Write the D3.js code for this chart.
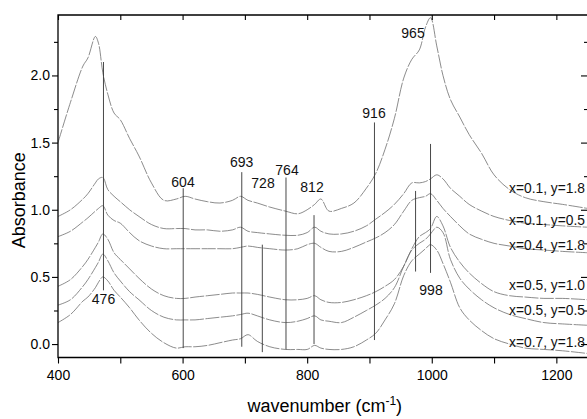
<!DOCTYPE html>
<html><head><meta charset="utf-8">
<script src="https://cdn.jsdelivr.net/npm/d3@7"></script>
<style>body{margin:0;background:#fff}svg{display:block}text{font-family:"Liberation Sans",Arial,sans-serif}</style>
</head><body>
<svg id="c" width="587" height="419"></svg>
<script>
// ---------- data ----------
const wavenumbers = [400,420,440,448,460,465,472,480,490,500,515,530,550,570,590,604,620,640,660,680,693,705,720,740,765,785,800,812,822,835,855,875,895,910,925,940,955,968,980,990,998,1008,1018,1030,1045,1060,1080,1100,1125,1150,1180,1210,1250];
const seriesNames = ["x=0.1, y=1.8","x=0.1, y=0.5","x=0.4, y=1.8","x=0.5, y=1.0","x=0.5, y=0.5","x=0.7, y=1.8"];
const absX01Y18 = [1.50,1.80,2.07,2.13,2.29,2.24,2.02,1.86,1.72,1.67,1.53,1.40,1.20,1.07,1.08,1.10,1.08,1.06,1.05,1.07,1.10,1.07,1.05,1.02,0.99,0.97,1.00,1.04,1.08,0.99,1.01,1.05,1.16,1.27,1.45,1.68,1.98,2.12,2.19,2.36,2.43,2.22,2.00,1.82,1.69,1.56,1.42,1.26,1.15,1.09,1.06,1.04,1.01];
const absX01Y05 = [0.95,1.00,1.08,1.12,1.20,1.23,1.24,1.15,1.10,1.06,1.00,0.95,0.89,0.86,0.86,0.86,0.85,0.85,0.84,0.85,0.87,0.84,0.83,0.82,0.81,0.81,0.83,0.87,0.84,0.82,0.82,0.84,0.88,0.93,0.98,1.04,1.12,1.20,1.20,1.21,1.23,1.26,1.23,1.16,1.10,1.04,0.99,0.95,0.92,0.90,0.89,0.88,0.87];
const absX04Y18 = [0.80,0.84,0.91,0.94,0.99,1.01,1.03,0.96,0.92,0.90,0.83,0.77,0.73,0.71,0.71,0.71,0.71,0.71,0.71,0.71,0.72,0.73,0.72,0.71,0.70,0.71,0.74,0.75,0.72,0.69,0.69,0.72,0.76,0.79,0.83,0.89,0.99,1.07,1.09,1.10,1.12,1.07,1.01,0.95,0.88,0.82,0.78,0.75,0.73,0.71,0.70,0.69,0.68];
const absX05Y10 = [0.43,0.48,0.58,0.63,0.72,0.76,0.82,0.78,0.68,0.63,0.56,0.49,0.41,0.36,0.34,0.34,0.35,0.36,0.37,0.38,0.38,0.38,0.37,0.35,0.33,0.33,0.34,0.36,0.33,0.31,0.31,0.33,0.36,0.39,0.43,0.48,0.58,0.71,0.80,0.83,0.86,0.95,0.88,0.72,0.61,0.53,0.45,0.39,0.36,0.35,0.34,0.34,0.33];
const absX05Y05 = [0.29,0.33,0.43,0.48,0.57,0.61,0.67,0.62,0.53,0.47,0.39,0.33,0.25,0.20,0.18,0.18,0.18,0.19,0.20,0.21,0.22,0.23,0.21,0.18,0.16,0.17,0.19,0.21,0.18,0.17,0.16,0.20,0.25,0.29,0.34,0.42,0.58,0.70,0.75,0.78,0.82,0.87,0.83,0.63,0.49,0.41,0.33,0.27,0.22,0.19,0.16,0.15,0.14];
const absX07Y18 = [0.16,0.22,0.32,0.35,0.42,0.46,0.50,0.47,0.40,0.35,0.27,0.18,0.08,0.01,-0.03,-0.02,-0.02,-0.01,0.01,0.03,0.04,0.07,0.02,-0.02,-0.04,-0.04,-0.04,-0.01,-0.03,-0.04,-0.04,-0.02,0.03,0.08,0.18,0.30,0.51,0.62,0.67,0.71,0.74,0.70,0.60,0.46,0.27,0.18,0.10,0.04,0.00,-0.03,-0.04,-0.05,-0.07];
const seriesValues = [absX01Y18,absX01Y05,absX04Y18,absX05Y10,absX05Y05,absX07Y18];

const markerLabels = ["476","604","693","728","764","812","916","965","998"];
const markerWn     = [473,601,695,728,766,811,908,974,998];
const markerTop    = [2.10,1.16,1.28,0.74,1.24,0.96,1.65,1.14,1.49];
const markerBottom = [0.40,-0.03,-0.02,-0.06,-0.04,0.00,0.03,0.54,0.53];

const xTickValues = [400,600,800,1000,1200];
const xMinorTicks = [500,700,900,1100];
const yTickValues = [0.0,0.5,1.0,1.5,2.0];
const yMinorTicks = [0.25,0.75,1.25,1.75,2.25];

// ---------- layout ----------
const L = 58, R = 587.5, T = 15, B = 357.5;
const x = d3.scaleLinear().domain([400,1250]).range([L,R]);
const y = d3.scaleLinear().domain([-0.1,2.45]).range([B,T]);
const markerLabelPos = [[103.5,304],[183,187],[241.7,167],[263,188],[287,175],[312,192],[374,118],[413,38],[431,295]];
const seriesLabelPos = [[509,193],[509,225],[509,250],[509,290],[509,315],[509,347]];

const svg = d3.select("#c");
svg.append("defs").append("clipPath").attr("id","pa").append("rect")
  .attr("x",L).attr("y",T).attr("width",R-L).attr("height",B-T);

const line = d3.line().x((d,i)=>x(wavenumbers[i])).y(d=>y(d)).curve(d3.curveCatmullRom.alpha(0.5));
const g = svg.append("g").attr("clip-path","url(#pa)");
g.selectAll("path.s").data(seriesValues).join("path").attr("class","s")
  .attr("d",line).attr("fill","none").attr("stroke","#666").attr("stroke-width",0.75)
  .attr("stroke-dasharray","14,1.5");

svg.append("g").selectAll("line").data(markerWn).join("line")
  .attr("x1",d=>x(d)).attr("x2",d=>x(d))
  .attr("y1",(d,i)=>y(markerTop[i])).attr("y2",(d,i)=>y(markerBottom[i]))
  .attr("stroke","#333").attr("stroke-width",0.9);
svg.append("g").selectAll("text").data(markerLabels).join("text")
  .attr("x",(d,i)=>markerLabelPos[i][0]).attr("y",(d,i)=>markerLabelPos[i][1])
  .attr("text-anchor","middle").attr("font-size",14).attr("fill","#111").text(d=>d);

svg.append("g").selectAll("text").data(seriesNames).join("text")
  .attr("x",(d,i)=>seriesLabelPos[i][0]).attr("y",(d,i)=>seriesLabelPos[i][1])
  .attr("font-size",13.8).attr("fill","#111").text(d=>d);

function style(sel){ sel.select(".domain").remove(); sel.selectAll("line").attr("stroke","#000").attr("stroke-width",1.1); sel.selectAll("text").attr("font-size",14).attr("fill","#000").attr("font-family",'"Liberation Sans",Arial,sans-serif'); }
svg.append("g").attr("transform",`translate(${L},0)`).call(d3.axisLeft(y).tickValues(yTickValues).tickSize(6).tickPadding(2).tickFormat(d3.format(".1f"))).call(style);
svg.append("g").attr("transform",`translate(${L},0)`).call(d3.axisLeft(y).tickValues(yMinorTicks).tickSize(4).tickFormat("")).call(style);
svg.append("g").attr("transform",`translate(${R-0.5},0)`).call(d3.axisRight(y).tickValues(yTickValues).tickSize(-6).tickFormat("")).call(style);
svg.append("g").attr("transform",`translate(${R-0.5},0)`).call(d3.axisRight(y).tickValues(yMinorTicks).tickSize(-3).tickFormat("")).call(style);
svg.append("g").attr("transform",`translate(0,${B})`).call(d3.axisBottom(x).tickValues(xTickValues).tickSize(6).tickPadding(7).tickFormat(d3.format("d"))).call(style);
svg.append("g").attr("transform",`translate(0,${B})`).call(d3.axisBottom(x).tickValues(xMinorTicks).tickSize(6).tickFormat("")).call(style);
svg.append("g").attr("transform",`translate(0,${T})`).call(d3.axisTop(x).tickValues(xTickValues.concat(xMinorTicks)).tickSize(-5).tickFormat("")).call(style);

svg.append("path").attr("d",`M${R},${T}H${L}V${B}H${R}`).attr("fill","none").attr("stroke","#000").attr("stroke-width",1.3);

const xt = svg.append("text").attr("x",(L+R)/2+2).attr("y",412).attr("text-anchor","middle").attr("font-size",18).attr("fill","#000");
xt.append("tspan").text("wavenumber (cm");
xt.append("tspan").attr("font-size",12).attr("dy",-7).text("-1");
xt.append("tspan").attr("dy",7).text(")");
svg.append("text").attr("transform",`translate(25,${(T+B)/2+14}) rotate(-90)`).attr("text-anchor","middle").attr("font-size",18).attr("fill","#000").text("Absorbance");
</script>
</body></html>
